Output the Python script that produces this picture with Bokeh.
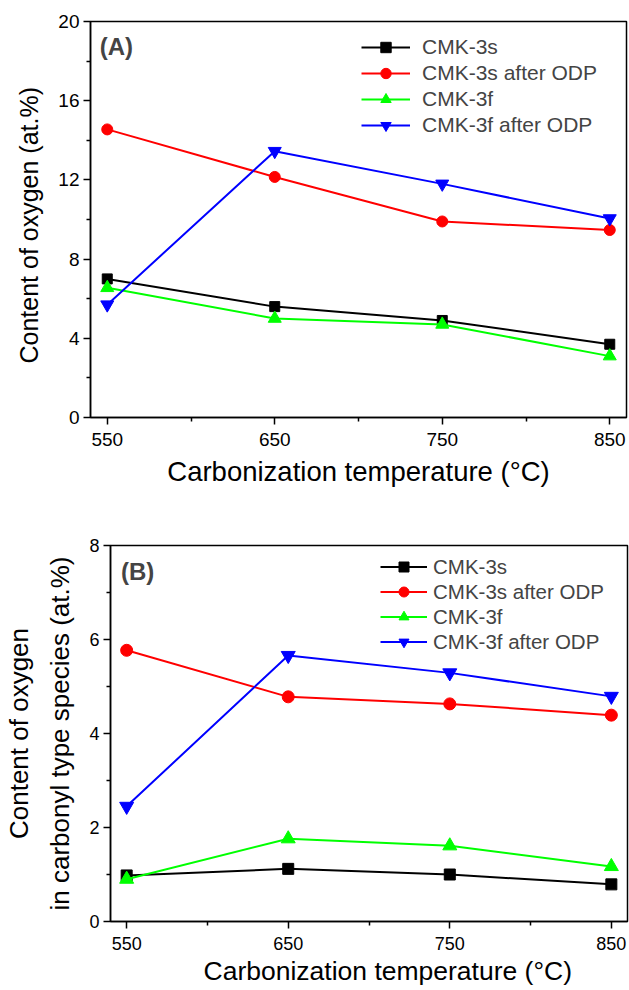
from bokeh.plotting import figure
from bokeh.models import FixedTicker, Label, Legend, Title
from bokeh.embed import file_html
from bokeh.resources import INLINE

temps = [550, 650, 750, 850]

# Panel A: content of oxygen (at.%)
a_cmk3s = [7.0, 5.6, 4.9, 3.7]
a_cmk3s_odp = [14.55, 12.15, 9.9, 9.47]
a_cmk3f = [6.55, 5.0, 4.7, 3.1]
a_cmk3f_odp = [5.7, 13.45, 11.8, 10.05]

# Panel B: content of oxygen in carbonyl type species (at.%)
b_cmk3s = [0.98, 1.12, 1.0, 0.79]
b_cmk3s_odp = [5.77, 4.78, 4.63, 4.39]
b_cmk3f = [0.9, 1.76, 1.61, 1.17]
b_cmk3f_odp = [2.45, 5.66, 5.29, 4.79]

names = ["CMK-3s", "CMK-3s after ODP", "CMK-3f", "CMK-3f after ODP"]
colors = ["#000000", "#ff0000", "#00ff00", "#0000ff"]
markers = ["square", "circle", "triangle", "inverted_triangle"]

x_ticks = [550, 650, 750, 850]
x_minor = [600, 700, 800]
a_yticks = [0, 4, 8, 12, 16, 20]
a_yminor = [2, 6, 10, 14, 18]
b_yticks = [0, 2, 4, 6, 8]
b_yminor = [1, 3, 5, 7]

x_title = "Carbonization temperature (°C)"
a_ytitle = "Content of oxygen (at.%)"
b_ytitle = ["Content of oxygen", "in carbonyl type species (at.%)"]

FONT = "Liberation Sans"


def title(p, s, side, size, standoff, align="center", offset=0, valign="bottom"):
    t = Title(text=s, align=align, offset=offset, standoff=standoff,
              vertical_align=valign,
              text_font=FONT, text_font_size=size, text_font_style="normal",
              text_color="black")
    p.add_layout(t, side)


def make_panel(series, height, yrange, yticks, yminor, border, fs_tick,
               msizes, leg, tag):
    p = figure(width=629, height=height, x_range=(540, 860), y_range=yrange,
               output_backend="svg", toolbar_location=None,
               min_border_left=border[0], min_border_right=border[1],
               min_border_top=border[2], min_border_bottom=border[3])
    p.grid.visible = False
    p.outline_line_color = "black"
    p.outline_line_width = 1.5
    p.background_fill_color = "white"
    p.border_fill_color = "white"

    for ax, ticks, minor in ((p.xaxis[0], x_ticks, x_minor), (p.yaxis[0], yticks, yminor)):
        ax.ticker = FixedTicker(ticks=ticks, minor_ticks=minor)
        ax.axis_line_width = 1.5
        ax.major_tick_line_width = 1.5
        ax.minor_tick_line_width = 1.5
        ax.major_tick_out = 7
        ax.major_tick_in = 0
        ax.minor_tick_out = 4
        ax.minor_tick_in = 0
        ax.major_label_text_font = FONT
        ax.major_label_text_font_size = fs_tick
        ax.major_label_text_color = "black"
    p.xaxis.major_label_standoff = 8
    p.yaxis.major_label_standoff = 4

    items = []
    for (vals, name, col, mk, ms) in zip(series, names, colors, markers, msizes):
        r1 = p.line(temps, vals, line_color=col, line_width=2)
        r2 = p.scatter(temps, vals, marker=mk, size=ms, fill_color=col,
                       line_color=col)
        items.append((name, [r1, r2]))

    legend = Legend(items=items, location=leg["loc"])
    legend.border_line_color = None
    legend.background_fill_alpha = 0
    legend.padding = 0
    legend.margin = 0
    legend.spacing = 0
    legend.glyph_width = leg["gw"]
    legend.glyph_height = leg["h"]
    legend.label_height = leg["h"]
    legend.label_standoff = leg["so"]
    legend.label_text_font = FONT
    legend.label_text_font_size = leg["fs"]
    p.add_layout(legend)

    p.add_layout(Label(x=tag[0], y=tag[1], text=tag[2], text_font=FONT,
                       text_font_size="24px", text_font_style="bold",
                       text_baseline="middle", text_align="left"))
    return p


pA = make_panel([a_cmk3s, a_cmk3s_odp, a_cmk3f, a_cmk3f_odp], 498, (0, 20),
                a_yticks, a_yminor, (88, 3, 21, 81), "19px", [10, 11, 13, 13],
                dict(loc=(271, 279), gw=49, h=26, so=12, fs="21px"),
                (545.5, 18.75, "(A)"))
title(pA, x_title, "below", "27.5px", 15, valign="top")
title(pA, a_ytitle, "left", "25px", 24.5, align="left", offset=54)

pB = make_panel([b_cmk3s, b_cmk3s_odp, b_cmk3f, b_cmk3f_odp], 492, (0, 8),
                b_yticks, b_yminor, (110, 2, 47, 66), "18px", [11, 12, 14, 14],
                dict(loc=(270, 267), gw=47, h=25, so=6, fs="20.5px"),
                (546.5, 7.45, "(B)"))
title(pB, x_title, "below", "26.5px", 6, align="left", offset=93, valign="top")
title(pB, b_ytitle[1], "left", "26px", 23.5)
title(pB, b_ytitle[0], "left", "26px", -7.5)

open("out.html", "w").write(file_html([pA, pB], INLINE))
